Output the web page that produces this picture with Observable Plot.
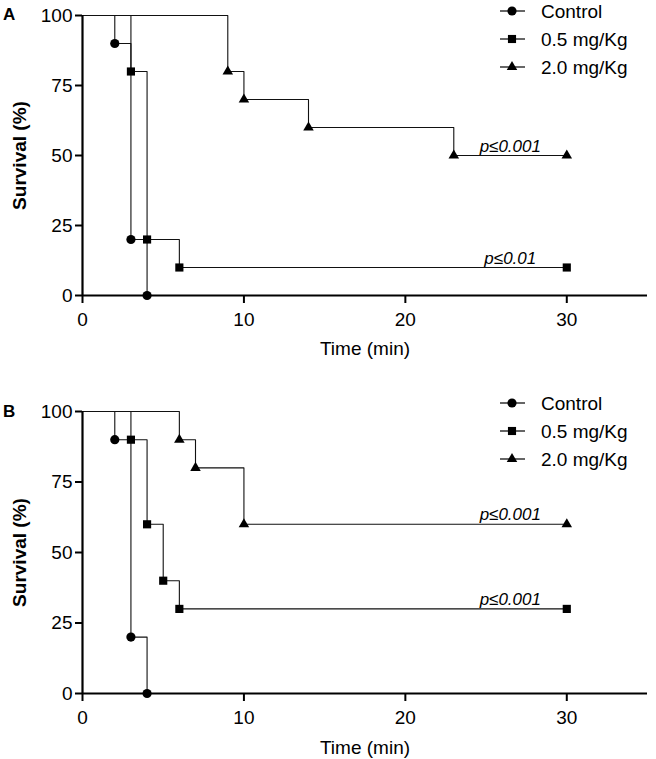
<!DOCTYPE html>
<html>
<head>
<meta charset="utf-8">
<script src="https://cdn.jsdelivr.net/npm/d3@7"></script>
<script src="https://cdn.jsdelivr.net/npm/@observablehq/plot@0.6"></script>
<style>
  body { margin: 0; background: #fff; }
  #wrap { position: relative; width: 656px; height: 759px; font-family: "Liberation Sans", Arial, sans-serif; }
  #wrap > svg { position: absolute; left: 0; }
  g[aria-label="y-axis label"] text, g[aria-label="y-axis label"] { font-weight: bold; }
</style>
</head>
<body>
<div id="wrap"></div>
<script>
// ---- data ----
const groups = ["Control", "0.5 mg/Kg", "2.0 mg/Kg"];
const symbols = ["circle", "square", "triangle"];
const xTicks = [0, 10, 20, 30];
const yTicks = [0, 25, 50, 75, 100];

// Panel A
const aControlTime = [0, 2, 3, 4];
const aControlSurv = [100, 90, 20, 0];
const aLowTime = [0, 3, 4, 6, 30];
const aLowSurv = [100, 80, 20, 10, 10];
const aHighTime = [0, 9, 10, 14, 23, 30];
const aHighSurv = [100, 80, 70, 60, 50, 50];
const aNoteText = ["p≤0.001", "p≤0.01"];
const aNoteX = [26.5, 26.5];
const aNoteY = [50, 10];

// Panel B
const bControlTime = [0, 2, 3, 4];
const bControlSurv = [100, 90, 20, 0];
const bLowTime = [0, 3, 4, 5, 6, 30];
const bLowSurv = [100, 90, 60, 40, 30, 30];
const bHighTime = [0, 6, 7, 10, 30];
const bHighSurv = [100, 90, 80, 60, 60];
const bNoteText = ["p≤0.001", "p≤0.001"];
const bNoteX = [26.5, 26.5];
const bNoteY = [60, 30];

function toRows(times, survs, group) {
  return times.map((t, i) => ({time: t, surv: survs[i], group, first: i === 0}));
}

const font = '"Liberation Sans", Arial, sans-serif';

function panel(series, notes, cfg) {
  const marks = [];
  series.forEach((rows, k) => {
    marks.push(Plot.line(rows, {x: "time", y: "surv", curve: "step-after", stroke: "#111", strokeWidth: 1.1}));
  });
  series.forEach((rows, k) => {
    marks.push(Plot.dot(rows.filter(d => !d.first), {
      x: "time", y: "surv", symbol: () => symbols[k], fill: "#000", stroke: "none",
      r: k === 2 ? 3.9 : 4.6
    }));
  });
  marks.push(Plot.ruleY([0], {strokeWidth: 2.2, stroke: "#000"}));
  marks.push(Plot.ruleX([0], {y1: 0, y2: 100, strokeWidth: 2.2, stroke: "#000"}));
  marks.push(Plot.axisY({ticks: yTicks, tickSize: 7, tickPadding: 3, strokeWidth: 2, fontSize: 19,
    label: "Survival (%)", labelAnchor: "center", labelOffset: 70, labelArrow: "none"}));
  marks.push(Plot.axisX({ticks: xTicks, tickSize: 8, tickPadding: 9, strokeWidth: 2, fontSize: 19,
    label: "Time (min)", labelAnchor: "center", labelOffset: cfg.xLabelOffset, labelArrow: "none"}));
  marks.push(Plot.text(notes, {x: "x", y: "y", text: "t", fontStyle: "italic", fontSize: 17,
    lineAnchor: "bottom", dy: -4, fill: "#000"}));
  return Plot.plot({
    width: 656, height: cfg.height,
    marginLeft: 82, marginRight: 9, marginTop: cfg.mt, marginBottom: cfg.mb,
    x: {domain: [0, 35]},
    y: {domain: [0, 100]},
    symbol: {type: "identity"},
    style: {fontFamily: font, fontSize: "19px", color: "#000", background: "transparent", overflow: "visible"},
    marks
  });
}

function notesRows(t, x, y) { return t.map((s, i) => ({t: s, x: x[i], y: y[i]})); }

const wrap = document.getElementById("wrap");

const plotA = panel(
  [toRows(aControlTime, aControlSurv, groups[0]), toRows(aLowTime, aLowSurv, groups[1]), toRows(aHighTime, aHighSurv, groups[2])],
  notesRows(aNoteText, aNoteX, aNoteY),
  {height: 370, mt: 15, mb: 75, xLabelOffset: 59}
);
plotA.style.top = "0px";
wrap.appendChild(plotA);

const plotB = panel(
  [toRows(bControlTime, bControlSurv, groups[0]), toRows(bLowTime, bLowSurv, groups[1]), toRows(bHighTime, bHighSurv, groups[2])],
  notesRows(bNoteText, bNoteX, bNoteY),
  {height: 389, mt: 41, mb: 66, xLabelOffset: 60}
);
plotB.style.top = "370px";
wrap.appendChild(plotB);

// overlay: panel letters and legends
const ov = d3.select(wrap).append("svg")
  .attr("width", 656).attr("height", 759)
  .style("position", "absolute").style("top", "0px").style("left", "0px")
  .style("font-family", font);

const letters = [["A", 20], ["B", 417]];
letters.forEach(([t, y]) => ov.append("text").attr("x", 3).attr("y", y).attr("font-size", 17)
  .attr("font-weight", "bold").text(t));

const legendTops = [11, 403];
legendTops.forEach(top => {
  groups.forEach((g, k) => {
    const y = top + k * 28;
    ov.append("line").attr("x1", 500).attr("x2", 525).attr("y1", y).attr("y2", y)
      .attr("stroke", "#000").attr("stroke-width", 1.2);
    const sym = [d3.symbolCircle, d3.symbolSquare, d3.symbolTriangle][k];
    const size = k === 2 ? 48 : 66;
    ov.append("path").attr("d", d3.symbol(sym, size)()).attr("transform", `translate(512,${y})`)
      .attr("fill", "#000");
    ov.append("text").attr("x", 541).attr("y", y).attr("dy", "0.35em").attr("font-size", 19).text(g);
  });
});
</script>
</body>
</html>
